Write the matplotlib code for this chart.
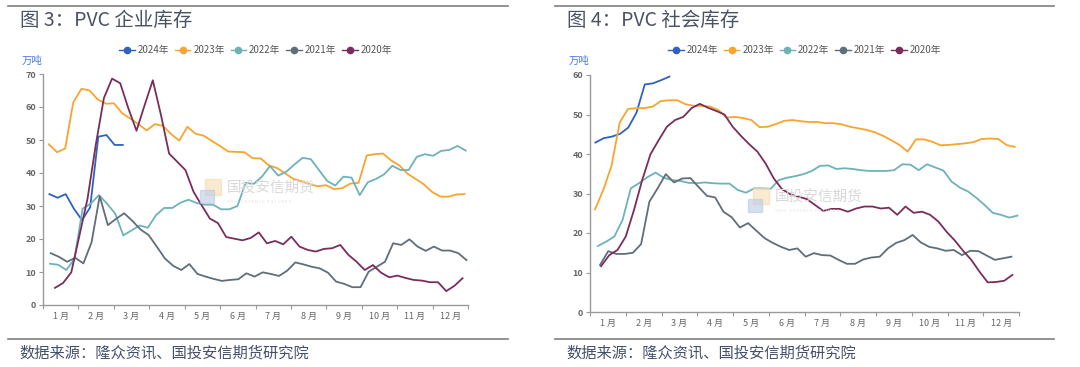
import numpy as np
import matplotlib
matplotlib.use("Agg")
import matplotlib.pyplot as plt
from matplotlib.patches import Rectangle
from matplotlib.lines import Line2D

plt.rcParams['font.family'] = ['Noto Sans CJK SC', 'DejaVu Sans']

years = ["2024年", "2023年", "2022年", "2021年", "2020年"]
colors = ["#2f62c0", "#f7a52e", "#6eb2b9", "#5f6e7a", "#7a2d5c"]
months = ["1 月", "2 月", "3 月", "4 月", "5 月", "6 月", "7 月", "8 月", "9 月", "10 月", "11 月", "12 月"]

# 图3 企业库存 (万吨), weekly
ent_2024 = [33.6, 32.5, 33.6, 29.2, 25.7, 29.6, 51.0, 51.5, 48.5, 48.5]
ent_2023 = [48.7, 46.3, 47.4, 61.4, 65.5, 65.0, 62.3, 61.0, 61.1, 58.1, 56.5, 54.8, 52.9,
            54.8, 54.3, 51.8, 49.8, 54.0, 51.9, 51.3, 49.7, 48.2, 46.5, 46.4, 46.3, 44.5,
            44.4, 42.3, 41.5, 39.9, 38.2, 37.5, 36.6, 36.0, 36.3, 35.1, 35.4, 36.8, 37.0,
            45.3, 45.7, 45.9, 43.8, 42.3, 39.8, 38.2, 36.6, 34.3, 32.9, 32.8, 33.5, 33.6]
ent_2022 = [12.5, 12.2, 10.6, 13.9, 29.2, 30.7, 33.3, 30.7, 27.7, 21.1, 22.6, 24.1, 23.4,
            27.2, 29.4, 29.4, 31.0, 31.9, 30.9, 30.4, 30.4, 29.0, 29.0, 30.0, 37.0, 36.7,
            38.9, 42.1, 39.2, 40.4, 42.6, 44.6, 44.2, 40.9, 37.6, 36.2, 38.9, 38.6, 33.3,
            37.2, 38.2, 39.6, 42.2, 40.9, 40.9, 44.9, 45.7, 45.2, 46.7, 47.0, 48.2, 46.8]
ent_2021 = [15.7, 14.6, 13.1, 14.3, 12.6, 19.0, 33.0, 24.2, 26.1, 27.8, 25.5, 22.9, 21.2,
            17.7, 14.1, 11.9, 10.6, 12.4, 9.4, 8.6, 7.9, 7.3, 7.6, 7.8, 9.6, 8.6,
            9.9, 9.4, 8.8, 10.4, 12.9, 12.3, 11.6, 11.1, 9.8, 7.1, 6.4, 5.4, 5.4,
            10.1, 11.6, 13.1, 18.7, 18.2, 19.9, 17.7, 16.4, 17.7, 16.5, 16.5, 15.7, 13.6]
ent_2020 = [5.2, 6.7, 9.9, 21.1, 32.3, 48.5, 62.7, 68.6, 67.2, 59.6, 52.8, 60.6, 68.1,
            57.6, 45.9, 43.4, 40.9, 34.3, 30.2, 26.2, 24.8, 20.6, 20.1, 19.6, 20.3, 22.0,
            18.7, 19.4, 18.4, 20.7, 17.7, 16.7, 16.2, 17.0, 17.2, 18.2, 15.2, 13.1, 10.6,
            12.1, 9.8, 8.4, 8.9, 8.2, 7.6, 7.4, 6.9, 6.9, 4.2, 5.8, 8.1]
ent_day0 = [5.5, 5.0, 6.0, 6.7, 10.3]

# 图4 社会库存 (万吨), weekly
soc_2024 = [42.9, 44.0, 44.4, 45.1, 46.7, 50.5, 57.6, 57.9, 58.7, 59.6]
soc_2023 = [26.0, 30.9, 37.0, 48.0, 51.4, 51.6, 51.6, 52.0, 53.4, 53.6, 53.6, 52.6, 52.2,
            52.2, 52.0, 51.1, 49.2, 49.4, 49.1, 48.6, 46.8, 46.9, 47.6, 48.4, 48.6, 48.3,
            48.1, 48.1, 47.8, 47.8, 47.5, 46.9, 46.5, 46.1, 45.5, 44.6, 43.5, 42.3, 40.6,
            43.7, 43.7, 43.1, 42.2, 42.3, 42.5, 42.7, 43.0, 43.8, 43.9, 43.8, 42.3, 41.8]
soc_2022 = [16.7, 17.8, 19.1, 23.3, 31.3, 32.6, 34.1, 35.3, 34.0, 33.4, 33.2, 32.7, 32.6,
            32.8, 32.6, 32.5, 32.5, 30.9, 30.2, 31.3, 31.3, 31.2, 33.4, 34.0, 34.4, 34.9,
            35.7, 37.0, 37.1, 36.2, 36.4, 36.2, 35.9, 35.7, 35.7, 35.7, 35.9, 37.4, 37.3,
            35.9, 37.4, 36.6, 35.8, 33.0, 31.5, 30.5, 28.9, 27.1, 25.1, 24.6, 23.9, 24.4]
soc_2021 = [11.9, 15.4, 14.7, 14.7, 15.0, 17.2, 27.9, 31.3, 34.9, 32.8, 33.8, 33.9, 31.6,
            29.4, 29.0, 25.4, 24.0, 21.4, 22.5, 20.6, 18.7, 17.5, 16.5, 15.7, 16.1,
            14.0, 14.9, 14.4, 14.3, 13.2, 12.2, 12.2, 13.3, 13.8, 14.0, 16.1, 17.5, 18.2,
            19.5, 17.6, 16.5, 16.1, 15.5, 15.7, 14.4, 15.5, 15.4, 14.3, 13.2, 13.6, 14.0]
soc_2020 = [11.6, 14.4, 15.7, 19.1, 25.8, 33.4, 39.9, 43.5, 46.9, 48.6, 49.4, 51.6, 52.7,
            51.7, 50.9, 50.0, 46.9, 44.6, 42.5, 40.6, 37.6, 33.8, 31.1, 29.8, 29.2,
            28.6, 27.1, 25.6, 26.1, 26.1, 25.4, 26.2, 26.7, 26.7, 26.2, 26.4, 24.6, 26.7,
            25.1, 25.4, 24.6, 22.9, 20.3, 18.1, 15.5, 13.2, 10.2, 7.5, 7.6, 7.9, 9.4]
soc_day0 = [4.6, 4.3, 6.7, 8.5, 9.4]

W, H = 1080, 367
fig = plt.figure(figsize=(W / 100, H / 100), dpi=100)


def fx(px):
    return px / W


def fy(py):
    return 1 - py / H


def panel(box, title, xl, xr, series, day0, ymax, logo_x, logo_y):
    x0, y0, x1, y1 = box
    ax = fig.add_axes([fx(x0), fy(y1), fx(x1) - fx(x0), fy(y0) - fy(y1)])
    for vals, d0, c in zip(series, day0, colors):
        x = (d0 + 7 * np.arange(len(vals))) / 365 * 12
        ax.plot(x, vals, color=c, lw=1.3, solid_joinstyle="round")
    ax.set_xlim(0, 12)
    ax.set_ylim(0, ymax)
    ax.set_yticks(np.arange(0, ymax + 1, 10))
    ax.set_xticks(np.arange(0, 13))
    ax.set_xticklabels([])
    ax.set_xticks(np.arange(12) + 0.5, minor=True)
    ax.set_xticklabels(months, minor=True)
    ax.tick_params(axis="x", which="minor", length=0, pad=5, labelsize=6.5, colors="#666666")
    ax.tick_params(axis="x", which="major", length=3, color="#999999")
    ax.tick_params(axis="y", length=3, color="#999999", labelsize=6.5, labelcolor="#666666", pad=2)
    for lab in ax.get_yticklabels():
        lab.set_fontweight("bold")
    for s in ["top", "right"]:
        ax.spines[s].set_visible(False)
    for s in ["left", "bottom"]:
        ax.spines[s].set_color("#9a9a9a")
        ax.spines[s].set_linewidth(1.0)

    handles = [Line2D([], [], color=c, lw=1.0, marker="o", markersize=4.5,
                      markerfacecolor=c, markeredgecolor=c) for c in colors]
    ax.legend(handles, years, loc="center", bbox_to_anchor=(0.5, (fy(50) - fy(y1)) / (fy(y0) - fy(y1))),
              ncol=5, frameon=False, fontsize=7, handlelength=1.6, handletextpad=0.3,
              columnspacing=0.6, labelcolor="#555555")
    fig.text(fx(x0 - 21), fy(61), "万吨", fontsize=7.5, color="#4a78e0", va="center")

    # top / bottom rules, title, source
    fig.add_artist(Line2D([fx(xl), fx(xr)], [fy(6), fy(6)], color="#7f7f7f", lw=1.2))
    fig.add_artist(Line2D([fx(xl), fx(xr)], [fy(339), fy(339)], color="#7f7f7f", lw=1.2))
    fig.text(fx(xl + 12), fy(20), title, fontsize=14, color="#4a5363", va="center")
    fig.text(fx(xl + 11), fy(353), "数据来源：隆众资讯、国投安信期货研究院", fontsize=11,
             color="#44506a", va="center")

    # watermark
    fig.add_artist(Rectangle((fx(logo_x), fy(logo_y + 12)), fx(16), fy(0) - fy(16),
                             color="#f7dcb0", alpha=0.6))
    fig.add_artist(Rectangle((fx(logo_x - 5), fy(logo_y + 20)), fx(14), fy(0) - fy(13),
                             color="#b9cbe6", alpha=0.6))
    fig.text(fx(logo_x + 22), fy(logo_y + 5), "国投安信期货", fontsize=10.5,
             color="#d9d9d9", va="center")
    fig.text(fx(logo_x + 22), fy(logo_y + 19), "S D I C   E S S E N C E   F U T U R E S",
             fontsize=3, color="#e2e2e2", va="center")
    return ax


panel((43, 74, 468, 305), "图 3：PVC 企业库存", 8, 508,
      [ent_2024, ent_2023, ent_2022, ent_2021, ent_2020], ent_day0, 70, 205, 183)
panel((590, 75, 1019, 312), "图 4：PVC 社会库存", 555, 1054,
      [soc_2024, soc_2023, soc_2022, soc_2021, soc_2020], soc_day0, 60, 753, 192)

fig.savefig("out.png", dpi=100)
